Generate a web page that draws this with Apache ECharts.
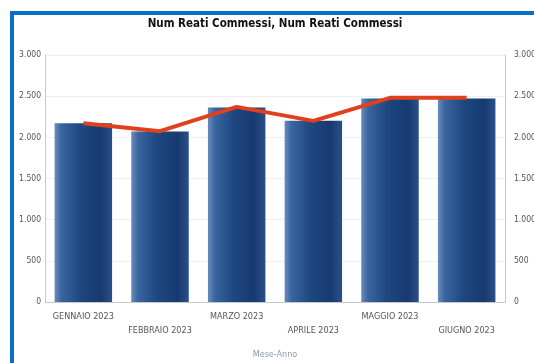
<!DOCTYPE html>
<html><head><meta charset="utf-8">
<script src="https://cdn.jsdelivr.net/npm/echarts@6/dist/echarts.min.js"></script>
<style>
html,body{margin:0;padding:0;background:#fff;overflow:hidden;}
#frame{position:absolute;left:10px;top:11px;width:530px;height:360px;border-left:4px solid #0b6fc6;border-top:4px solid #0b6fc6;}
#c{position:absolute;left:0;top:0;width:534px;height:363px;}
</style></head><body>
<div id="frame"></div>
<div id="c"></div>
<script>
var titleText = 'Num Reati Commessi, Num Reati Commessi';
var categories = ['GENNAIO 2023','FEBBRAIO 2023','MARZO 2023','APRILE 2023','MAGGIO 2023','GIUGNO 2023'];
var barValues = [2170, 2072, 2362, 2200, 2472, 2472];
var lineValues = [2172, 2075, 2370, 2200, 2480, 2480];
var yTicks = {min: 0, max: 3000, interval: 500};
var xAxisName = 'Mese-Anno';

function fmt(v){ return String(v).replace(/\B(?=(\d{3})+(?!\d))/g, '.'); }
var chart = echarts.init(document.getElementById('c'));
var font = 'DejaVu Sans Condensed';
chart.setOption({
  backgroundColor: 'transparent',
  animation: false,
  title: {text: titleText, left: 270, textAlign: 'center', top: 13,
    textStyle: {fontFamily: font, fontWeight: 'bold', fontSize: 11.5, color: '#111'}},
  grid: {left: 45, right: 29, top: 55, bottom: 61, containLabel: false, outerBoundsMode: 'none'},
  xAxis: {type: 'category', data: categories, name: xAxisName, nameLocation: 'middle', nameGap: 48,
    nameTextStyle: {fontFamily: font, fontSize: 9, color: '#8c9bb2'},
    axisLine: {show: true, lineStyle: {color: '#c8c8c8'}}, axisTick: {show: false},
    axisLabel: {interval: 0, fontFamily: font, fontSize: 9, color: '#555', margin: 8, lineHeight: 14,
      formatter: function(v, i){ return i % 2 ? '\n' + v : v; }}},
  yAxis: [
    {type: 'value', min: yTicks.min, max: yTicks.max, interval: yTicks.interval,
     axisLine: {show: true, lineStyle: {color: '#c8c8c8'}}, axisTick: {show: false},
     axisLabel: {fontFamily: font, fontSize: 8.5, color: '#555', margin: 4, formatter: fmt},
     splitLine: {show: true, lineStyle: {color: '#f0f0f0'}}},
    {type: 'value', min: yTicks.min, max: yTicks.max, interval: yTicks.interval, position: 'right',
     axisLine: {show: true, lineStyle: {color: '#c8c8c8'}}, axisTick: {show: false},
     axisLabel: {fontFamily: font, fontSize: 8.5, color: '#555', margin: 9, formatter: fmt},
     splitLine: {show: false}}
  ],
  series: [
    {type: 'bar', data: barValues, barCategoryGap: '25%', yAxisIndex: 0,
     itemStyle: {color: new echarts.graphic.LinearGradient(0, 0, 1, 0, [
       {offset: 0, color: '#6a8cbc'}, {offset: 0.12, color: '#3a659e'},
       {offset: 0.45, color: '#1e4780'}, {offset: 0.8, color: '#163a70'},
       {offset: 1, color: '#2b5088'}])}},
    {type: 'line', data: lineValues, yAxisIndex: 1, showSymbol: false, symbol: 'none',
     lineStyle: {color: '#e0401c', width: 4}}
  ]
});
</script></body></html>
